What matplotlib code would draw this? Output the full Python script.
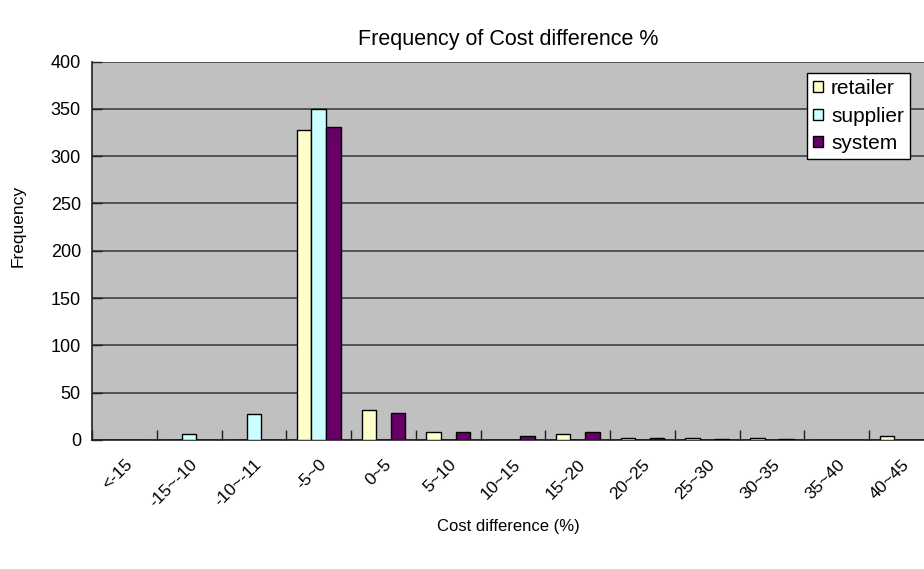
import matplotlib
matplotlib.use("Agg")
import matplotlib.pyplot as plt
import numpy as np

categories = ["<-15", "-15~-10", "-10~-11", "-5~0", "0~5", "5~10", "10~15",
              "15~20", "20~25", "25~30", "30~35", "35~40", "40~45"]
retailer = [0, 0, 0, 328, 32, 8, 0, 6, 2, 2, 2, 0, 4]
supplier = [0, 6, 28, 350, 0, 0, 0, 0, 0, 0, 0, 0, 0]
system = [0, 0, 0, 331, 29, 8, 4, 8, 2, 1, 1, 0, 0]

series = [("retailer", retailer, "#FFFFCC"),
          ("supplier", supplier, "#CCFFFF"),
          ("system", system, "#660066")]

plt.rcParams["font.family"] = ["Liberation Sans", "DejaVu Sans"]

W, H = 924, 569
fig = plt.figure(figsize=(W / 100, H / 100), dpi=100)
fig.patch.set_facecolor("white")

# plot area in pixel coordinates (extends slightly past the right edge)
left, right, top, bottom = 92, 934, 61.5, 440
ax = fig.add_axes([left / W, 1 - bottom / H, (right - left) / W, (bottom - top) / H])
ax.set_facecolor("#C0C0C0")

n = len(categories)
x = np.arange(n)
bw = 0.225
for i, (name, vals, col) in enumerate(series):
    ax.bar(x + (i - 1) * bw, vals, width=bw, color=col, edgecolor="black",
           linewidth=1.0, label=name, zorder=3)

ax.set_xlim(-0.5, n - 0.5)
ax.set_ylim(0, 400)
ax.set_yticks(np.arange(0, 401, 50))
ax.yaxis.grid(True, color="#404040", linewidth=1.2, zorder=1)
ax.set_axisbelow(True)

fs = 12.5

# ticks at category boundaries, labels at centers
ax.set_xticks(np.arange(-0.5, n, 1.0))
ax.set_xticklabels([])
ax.set_xticks(x, minor=True)
ax.set_xticklabels(categories, minor=True, rotation=45, ha="right", va="top",
                   rotation_mode="anchor", fontsize=fs)
ax.tick_params(axis="x", which="minor", length=0, pad=12)
ax.tick_params(axis="x", which="major", direction="in", length=7, width=1, color="#202020")
ax.tick_params(axis="y", direction="in", length=7, width=1, color="#202020", labelsize=13, pad=8)

for s in ["top", "right"]:
    ax.spines[s].set_visible(False)
for s in ["left", "bottom"]:
    ax.spines[s].set_color("#202020")
    ax.spines[s].set_linewidth(1.2)

fig.text(18 / W, 1 - 226 / H, "Frequency", rotation=90, ha="center", va="center", fontsize=fs)
fig.text(508 / W, 1 - 526 / H, "Cost difference (%)", ha="center", va="center", fontsize=12)
fig.text(508 / W, 1 - 40 / H, "Frequency of Cost difference %", ha="center",
         va="center", fontsize=15.5)

leg = ax.legend(loc="upper left", bbox_to_anchor=((807 - left) / (right - left), 1 - (73 - top) / (bottom - top)),
                frameon=True, fancybox=False, fontsize=15, handlelength=0.45,
                handleheight=0.45, handletextpad=0.4, borderpad=0.3, labelspacing=0.4,
                borderaxespad=0)
leg.get_frame().set_edgecolor("black")
leg.get_frame().set_linewidth(1.0)
leg.get_frame().set_facecolor("white")
leg.get_frame().set_alpha(1)

fig.savefig("out.png", dpi=100)
